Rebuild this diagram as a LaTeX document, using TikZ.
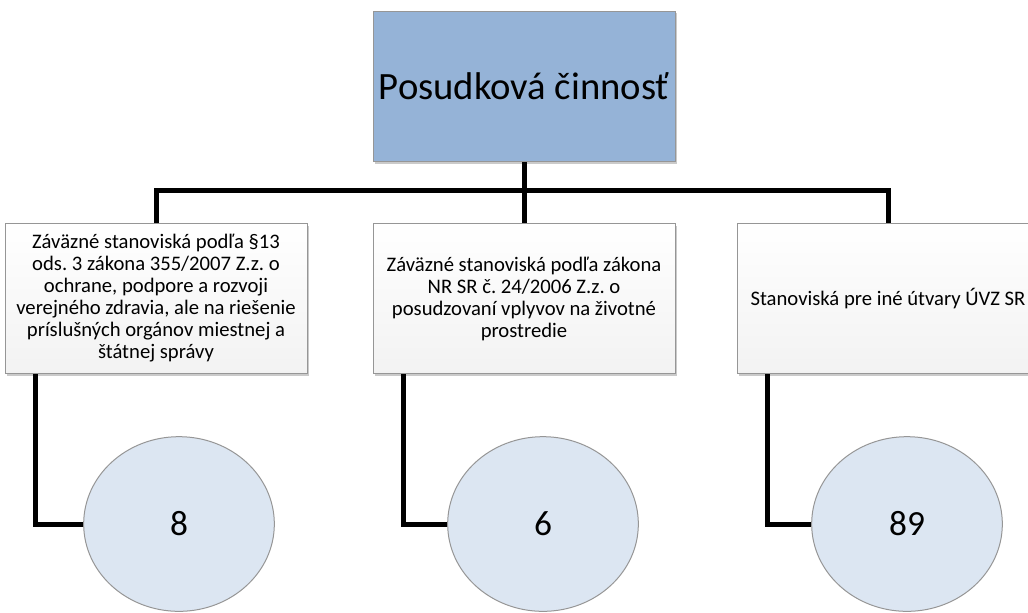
\documentclass[tikz,border=0pt]{standalone}
\usepackage{fontspec}
\setmainfont{Carlito}
\frenchspacing
\usetikzlibrary{shapes.geometric,shadows}

\definecolor{headblue}{RGB}{149,179,215}
\definecolor{roundblue}{RGB}{220,230,242}
\definecolor{edgegray}{RGB}{150,150,150}

\tikzset{every picture/.style={line width=0.75pt}}
\tikzset{
	boxshadow/.style={drop shadow={shadow xshift=1.5pt, shadow yshift=-1.5pt, fill=gray!70, opacity=0.6}},
	headbox/.style={draw=edgegray, fill=headblue, minimum width=226.5pt, minimum height=113pt, inner sep=0pt, font=\fontsize{29}{33}\selectfont, boxshadow},
	itembox/.style={draw=edgegray, top color=white, bottom color=gray!10, minimum width=226.5pt, minimum height=112.5pt, inner sep=1pt, align=center, font=\fontsize{15.5}{16.5}\selectfont, boxshadow},
	countball/.style={ellipse, draw=edgegray, fill=roundblue, minimum width=143pt, minimum height=131pt, inner sep=0pt, font=\fontsize{26.5}{30}\selectfont},
	wire/.style={line width=3.75pt}
}

\begin{document}
\begin{tikzpicture}[x=0.75pt,y=0.75pt,yscale=-1,xscale=1]
	\clip (0,0) rectangle (1028,612);

	% Head
	\node [headbox] (head) at (524,86.5) {Posudková činnosť};

	% Boxes
	\node [itembox] (left) at (156,298.5) {Záväzné stanoviská podľa §13\\ods. 3 zákona 355/2007 Z.z. o\\ochrane, podpore a rozvoji\\verejného zdravia, ale na riešenie\\príslušných orgánov miestnej a\\štátnej správy};
	\node [itembox] (mid) at (524,298.5) {Záväzné stanoviská podľa zákona\\NR SR č. 24/2006 Z.z. o\\posudzovaní vplyvov na životné\\prostredie};
	\node [itembox] (right) at (888,298.5) {Stanoviská pre iné útvary ÚVZ SR};

	% Counts
	\node [countball] (cleft) at (179,524) {8};
	\node [countball] (cmid) at (543,524) {6};
	\node [countball] (cright) at (907,524) {89};

	% Connections
	\coordinate (bus) at (524,190);
	\draw [wire] (head.south) -- (bus);
	\draw [wire] (left.north) |- (bus) -| (right.north);
	\draw [wire] (bus) -- (mid.north);
	\draw [wire] ([xshift=23pt]left.south west) |- (cleft.west);
	\draw [wire] ([xshift=23pt]mid.south west) |- (cmid.west);
	\draw [wire] ([xshift=23pt]right.south west) |- (cright.west);

\end{tikzpicture}
\end{document}
